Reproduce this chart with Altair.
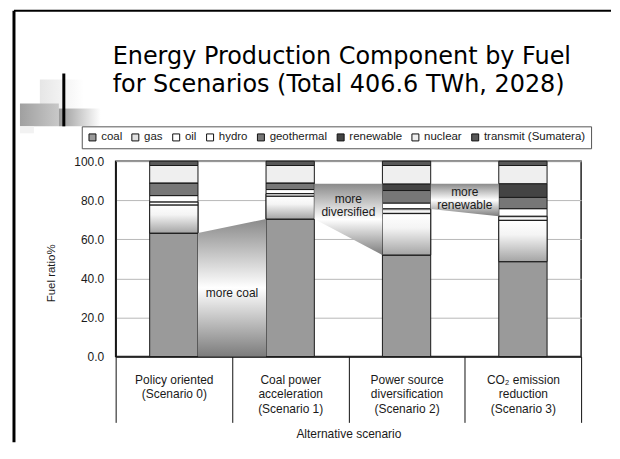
import altair as alt
import pandas as pd

# ---------------- data ----------------
scenario_labels = [
    ["Policy oriented", "(Scenario 0)"],
    ["Coal power", "acceleration", "(Scenario 1)"],
    ["Power source", "diversification", "(Scenario 2)"],
    ["CO\u2082 emission", "reduction", "(Scenario 3)"],
]
fuels = ["coal", "gas", "oil", "hydro", "geothermal", "renewable", "nuclear",
         "transmit (Sumatera)"]
s0 = [63.2, 14.4, 1.5, 3.3, 6.5, 0.0, 8.9, 2.2]
s1 = [70.4, 11.7, 1.3, 2.1, 3.4, 0.0, 8.9, 2.2]
s2 = [52.0, 21.2, 2.4, 3.0, 6.4, 3.4, 9.4, 2.2]
s3 = [48.6, 21.1, 2.1, 3.9, 5.8, 7.0, 9.3, 2.2]
y_ticks = [0, 20, 40, 60, 80, 100]

# annotation wedges drawn in the gaps between bars (gap k lies between bar k-1 and bar k)
wedge_gap = [1, 2, 3]
wedge_left_top = [63.2, 88.5, 88.5]
wedge_left_bottom = [0.0, 70.4, 75.6]
wedge_right_top = [70.4, 88.5, 88.5]
wedge_right_bottom = [0.0, 52.0, 71.8]

note_text = ["more coal", "more", "diversified", "more", "renewable"]
note_gap = [1, 2, 2, 3, 3]
note_y = [32.7, 80.8, 74.0, 84.2, 77.4]

title_lines = ["Energy Production Component by Fuel",
               "for Scenarios (Total 406.6 TWh, 2028)"]

# ---------------- styles ----------------
fuel_colors = ["#9a9a9a", "#e2e2e2", "#ffffff", "#ffffff", "#777777",
               "#444444", "#efefef", "#585858"]
BAR_FRAC = 0.415
FONT = "Liberation Sans"

def grad(stops, horizontal=False):
    return alt.Gradient(
        gradient="linear",
        stops=[alt.GradientStop(color=c, offset=o) for o, c in stops],
        x1=0, y1=0, x2=1 if horizontal else 0, y2=0 if horizontal else 1,
    )

gas_grad = grad([(0, "#ffffff"), (0.35, "#f4f4f4"), (1, "#a4a4a4")])
oil_grad = grad([(0, "#9a9a9a"), (0.5, "#ffffff"), (1, "#9a9a9a")])
wedge_grad = grad([(0, "#8a8a8a"), (0.5, "#ffffff"), (1, "#7c7c7c")])

# ---------------- tables ----------------
scen_keys = ["|".join(l) for l in scenario_labels]
rows = []
for key, vals in zip(scen_keys, [s0, s1, s2, s3]):
    for i, (f, v) in enumerate(zip(fuels, vals)):
        rows.append({"scenario": key, "fuel": f, "value": v, "order": i})
df = pd.DataFrame(rows)

half = BAR_FRAC / 2
wrows = []
for g, lt, lb, rt, rb in zip(wedge_gap, wedge_left_top, wedge_left_bottom,
                             wedge_right_top, wedge_right_bottom):
    wrows.append({"wedge": g, "x": g - 0.5 + half, "top": lt, "bottom": lb})
    wrows.append({"wedge": g, "x": g + 0.5 - half, "top": rt, "bottom": rb})
wdf = pd.DataFrame(wrows)
ndf = pd.DataFrame({"text": note_text, "gap": note_gap, "y": note_y})

xband = alt.Scale(paddingInner=0, paddingOuter=0)
yscale = alt.Scale(domain=[0, 100], nice=False)
xq = alt.Scale(domain=[0, 4], nice=False, zero=False)

xaxis = alt.Axis(orient="bottom", title="Alternative scenario", labelAngle=0,
                 labelExpr="split(datum.label, '|')",
                 labelFont=FONT, labelFontSize=12, labelColor="#1a1a1a",
                 labelLineHeight=14.5, labelBaseline="top",
                 tickBand="extent", tickSize=66, tickColor="#111",
                 tickWidth=1, labelPadding=-48,
                 domainColor="#111", domainWidth=1.5,
                 titleFont=FONT, titleFontSize=12, titleFontWeight="normal",
                 titleColor="#1a1a1a", titleY=77, titleBaseline="middle")
yaxis = alt.Axis(title="Fuel ratio%", values=y_ticks, format=".1f",
                 ticks=False, labelPadding=12, labelFont=FONT,
                 labelFontSize=12, labelColor="#1a1a1a", labelOverlap=False,
                 gridColor="#b8b8b8", gridWidth=1,
                 domainColor="#111", domainWidth=1.5,
                 titleFont=FONT, titleFontSize=11.5,
                 titleFontWeight="normal", titleColor="#1a1a1a",
                 titleX=-64, titleY=112, titleAngle=270,
                 titleAlign="center", titleBaseline="middle")

base = alt.Chart(df).transform_stack(
    stack="value", groupby=["scenario"], as_=["y0", "y1"],
    sort=[alt.SortField("order", order="ascending")],
)
bar_width = alt.RelativeBandSize(BAR_FRAC)

bars = base.mark_bar(stroke="#1a1a1a", strokeWidth=1, width=bar_width).encode(
    x=alt.X("scenario:N", sort=scen_keys, scale=xband, axis=xaxis),
    y=alt.Y("y1:Q", scale=yscale, axis=yaxis),
    y2="y0:Q",
    color=alt.Color("fuel:N", scale=alt.Scale(domain=fuels, range=fuel_colors),
                    legend=alt.Legend(title=None, orient="none", legendX=-34,
                                      legendY=-35, direction="horizontal",
                                      columns=8, symbolType="square",
                                      symbolSize=49, symbolStrokeColor="#111",
                                      symbolStrokeWidth=1, labelFont=FONT,
                                      labelFontSize=11.5, labelColor="#1a1a1a",
                                      labelOffset=3, columnPadding=7,
                                      padding=5, strokeColor="#555",
                                      fillColor="white")),
)

def overlay(fuel, fill):
    return base.transform_filter(alt.datum.fuel == fuel).mark_bar(
        fill=fill, stroke="#1a1a1a", strokeWidth=1, width=bar_width
    ).encode(
        x=alt.X("scenario:N", sort=scen_keys, scale=xband, axis=xaxis),
        y=alt.Y("y1:Q", scale=yscale, axis=yaxis),
        y2="y0:Q",
    )

bar_layer = alt.layer(bars, overlay("gas", gas_grad), overlay("oil", oil_grad))

wedges = alt.Chart(wdf).mark_area(fill=wedge_grad, strokeWidth=0).encode(
    x=alt.X("x:Q", scale=xq, axis=None),
    y=alt.Y("top:Q", scale=yscale, axis=yaxis),
    y2="bottom:Q",
    detail="wedge:N",
)
notes = alt.Chart(ndf).mark_text(font=FONT, fontSize=12, color="#1a1a1a").encode(
    x=alt.X("gap:Q", scale=xq, axis=None),
    y=alt.Y("y:Q", scale=yscale, axis=yaxis),
    text="text:N",
)

# slide decorations and title (page-level, not data)
one = pd.DataFrame({"d": [0]})
def rule(**enc):
    sw = enc.pop("sw")
    return alt.Chart(one).mark_rule(color="black", strokeWidth=sw).encode(**enc)

def box(x, x2, y, y2, fill):
    return alt.Chart(one).mark_rect(fill=fill).encode(
        x=alt.value(x), x2=alt.value(x2), y=alt.value(y), y2=alt.value(y2))

deco = [
    box(-76, -32, -82, -53, grad([(0, "#e6e6e6"), (1, "#ffffff")], True)),
    box(-96, -57, -58, -35, grad([(0, "#a0a0a0"), (1, "#c8c8c8")], True)),
    box(-57, -15, -53, -35, grad([(0, "#999999"), (1, "#ffffff")], True)),
    box(-96, -82, -35, -28, "#f2f2f2"),
    rule(x=alt.value(-52), y=alt.value(-88), y2=alt.value(-35), sw=3),
    rule(x=alt.value(-102), y=alt.value(-151), y2=alt.value(282), sw=3),
    rule(x=alt.value(-102), x2=alt.value(497), y=alt.value(-151), sw=2),
]
titles = [
    alt.Chart(one).mark_text(text=t, font="DejaVu Sans", fontSize=24, align="left",
                             baseline="alphabetic", color="black").encode(
        x=alt.value(-3), y=alt.value(yy))
    for t, yy in zip(title_lines, [-98, -69.5])
]

anno_layer = alt.layer(wedges, notes, *deco, *titles)

chart = alt.layer(bar_layer, anno_layer).resolve_scale(x="independent").properties(
    width=467, height=196, padding={"left": 4, "top": 0, "right": 0, "bottom": 0},
    background="white",
).configure_view(stroke="#222", strokeWidth=1.5)

chart.save("out.html", embed_options={"renderer": "svg", "actions": False})
